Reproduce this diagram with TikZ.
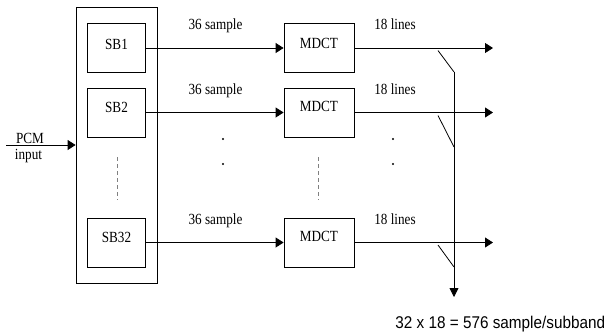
\documentclass[tikz,border=0pt]{standalone}
\usepackage{fontspec}
\setmainfont[FakeStretch=0.85]{Liberation Serif}
\newfontfamily\bottomfont[FakeStretch=0.9]{Liberation Sans}
\usetikzlibrary{arrows.meta}
\begin{document}
\begin{tikzpicture}[x=1pt,y=-1pt,
  line width=0.8pt,
  blk/.style={draw, rectangle, inner sep=0pt, minimum height=49pt},
  sbbox/.style={blk, minimum width=58pt},
  mdbox/.style={blk, minimum width=70pt},
  lbl/.style={anchor=base, inner sep=0pt, font=\fontsize{15.5}{18}\selectfont},
  arr/.style={-{Triangle[length=8pt,width=10pt]}},
  dashline/.style={gray, line width=0.7pt, dash pattern=on 4pt off 3pt},
  dotmark/.style={fill, circle, inner sep=0pt, minimum size=2.2pt}
]
\useasboundingbox (0,0) rectangle (608,333);

% outer filter bank box
\node[draw, rectangle, inner sep=0pt, minimum width=81pt, minimum height=276pt] (outer) at (116.5,145) {};

% subband boxes
\node[sbbox] (sb1) at (116.5,48) {};
\node[sbbox] (sb2) at (116.5,112.5) {};
\node[sbbox] (sb32) at (116.5,242.5) {};
\node[lbl] (tsb1) at (116.5,49) {SB1};
\node[lbl] (tsb2) at (116.5,112) {SB2};
\node[lbl] (tsb32) at (116.5,242) {SB32};

% MDCT boxes
\node[mdbox] (md1) at (319,48) {};
\node[mdbox] (md2) at (319,112.5) {};
\node[mdbox] (md3) at (319,242.5) {};
\node[lbl] (tmd1) at (319,48.5) {MDCT};
\node[lbl] (tmd2) at (319,111.5) {MDCT};
\node[lbl] (tmd3) at (319,241.5) {MDCT};

% PCM input
\coordinate (pin) at (6,145);
\draw[arr] (pin) -- (outer.west);
\node[lbl] (pcm) at (30,143) {PCM};
\node[lbl] (inp) at (28.5,159.5) {input};

% sample arrows
\draw[arr] (sb1.east) -- (md1.west);
\draw[arr] (sb2.east) -- (md2.west);
\draw[arr] (sb32.east) -- (md3.west);
\node[lbl] (s1) at (215.5,29) {36 sample};
\node[lbl] (s2) at (215.5,94) {36 sample};
\node[lbl] (s3) at (215.5,224.5) {36 sample};

% output arrows
\coordinate (o1) at (493,48);
\coordinate (o2) at (493,112.5);
\coordinate (o3) at (493,242.5);
\draw[arr] (md1.east) -- (o1);
\draw[arr] (md2.east) -- (o2);
\draw[arr] (md3.east) -- (o3);
\node[lbl] (l1) at (395,29) {18 lines};
\node[lbl] (l2) at (395,94) {18 lines};
\node[lbl] (l3) at (395,224.5) {18 lines};

% collecting line
\coordinate (d1a) at (438,50.5);
\coordinate (d1b) at (454,72);
\coordinate (d2a) at (438,115.5);
\coordinate (d2b) at (454,147);
\coordinate (d3a) at (438,245);
\coordinate (d3b) at (454,267);
\coordinate (bot) at (454,297);
\draw (d1a) -- (d1b);
\draw (d2a) -- (d2b);
\draw (d3a) -- (d3b);
\draw[-{Triangle[length=9pt,width=9pt]}] (d1b) -- (bot);

% ellipsis marks
\draw[dashline] (117,157) -- (117,200);
\draw[dashline] (318,157) -- (318,200);
\node[dotmark] (p1) at (223,139) {};
\node[dotmark] (p2) at (223,164) {};
\node[dotmark] (p3) at (393,139) {};
\node[dotmark] (p4) at (393,164) {};

% result label
\node[anchor=base west, inner sep=0pt, font=\bottomfont\fontsize{17}{20}\selectfont] (res) at (395,328) {32 x 18 = 576 sample/subband};
\end{tikzpicture}
\end{document}
